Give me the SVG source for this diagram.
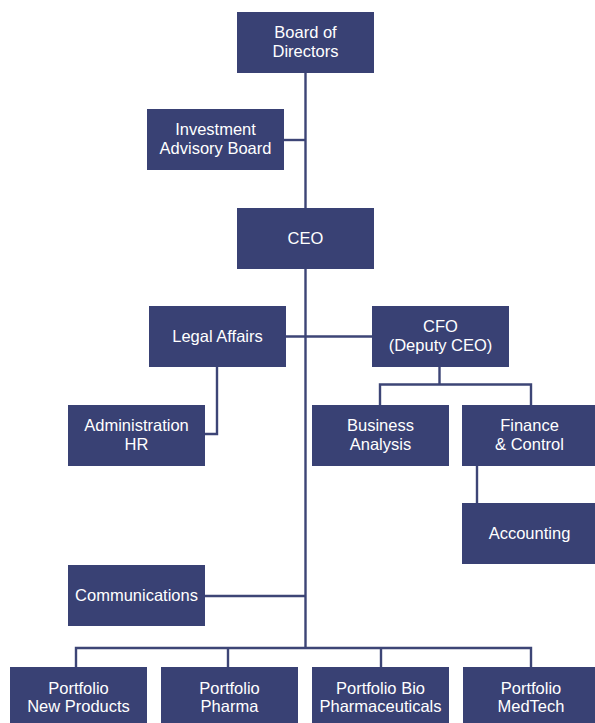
<svg xmlns="http://www.w3.org/2000/svg" width="595" height="723" viewBox="0 0 595 723">
<style>
.box{fill:#394174}
.t{fill:#ffffff;font-family:"Liberation Sans",Arial,Helvetica,sans-serif;font-size:16.5px;text-anchor:middle}
.ln{stroke:#3d4576;stroke-width:2.4;fill:none}
</style>
<rect width="595" height="723" fill="#ffffff"/>
<g id="connectors">
<path class="ln" d="M305.5,73V208M305.5,269V648"/>
<path class="ln" d="M284,140H305.5"/>
<path class="ln" d="M286,336.5H372"/>
<path class="ln" d="M217,367V434H205"/>
<path class="ln" d="M439.5,367V384.5M380,405V384.5H531V405"/>
<path class="ln" d="M477,466V503"/>
<path class="ln" d="M205,596H305.5"/>
<path class="ln" d="M76,667V648H531V667M228,648V667M381,648V667"/>
</g>
<g id="board"><rect class="box" x="237" y="12" width="137" height="61"/><text class="t" x="305.5" y="38.3">Board of</text><text class="t" x="305.5" y="56.7">Directors</text></g>
<g id="investment"><rect class="box" x="147" y="109" width="137" height="61"/><text class="t" x="215.5" y="135.3">Investment</text><text class="t" x="215.5" y="153.7">Advisory Board</text></g>
<g id="ceo"><rect class="box" x="237" y="208" width="137" height="61"/><text class="t" x="305.5" y="244">CEO</text></g>
<g id="legal"><rect class="box" x="149" y="306" width="137" height="61"/><text class="t" x="217.5" y="342">Legal Affairs</text></g>
<g id="cfo"><rect class="box" x="372" y="306" width="137" height="61"/><text class="t" x="440.5" y="332.3">CFO</text><text class="t" x="440.5" y="350.7">(Deputy CEO)</text></g>
<g id="admin"><rect class="box" x="68" y="405" width="137" height="61"/><text class="t" x="136.5" y="431.3">Administration</text><text class="t" x="136.5" y="449.7">HR</text></g>
<g id="business"><rect class="box" x="312" y="405" width="137" height="61"/><text class="t" x="380.5" y="431.3">Business</text><text class="t" x="380.5" y="449.7">Analysis</text></g>
<g id="finance"><rect class="box" x="462" y="405" width="137" height="61"/><text class="t" x="529.5" y="431.3">Finance</text><text class="t" x="529.5" y="449.7">&amp; Control</text></g>
<g id="accounting"><rect class="box" x="462" y="503" width="137" height="61"/><text class="t" x="529.5" y="539">Accounting</text></g>
<g id="communications"><rect class="box" x="68" y="565" width="137" height="61"/><text class="t" x="136.5" y="601">Communications</text></g>
<g id="p-new"><rect class="box" x="10" y="667" width="137" height="61"/><text class="t" x="78.5" y="694">Portfolio</text><text class="t" x="78.5" y="712.4">New Products</text></g>
<g id="p-pharma"><rect class="box" x="161" y="667" width="137" height="61"/><text class="t" x="229.5" y="694">Portfolio</text><text class="t" x="229.5" y="712.4">Pharma</text></g>
<g id="p-bio"><rect class="box" x="312" y="667" width="137" height="61"/><text class="t" x="380.5" y="694">Portfolio Bio</text><text class="t" x="380.5" y="712.4">Pharmaceuticals</text></g>
<g id="p-medtech"><rect class="box" x="463" y="667" width="137" height="61"/><text class="t" x="531" y="694">Portfolio</text><text class="t" x="531" y="712.4">MedTech</text></g>
</svg>
